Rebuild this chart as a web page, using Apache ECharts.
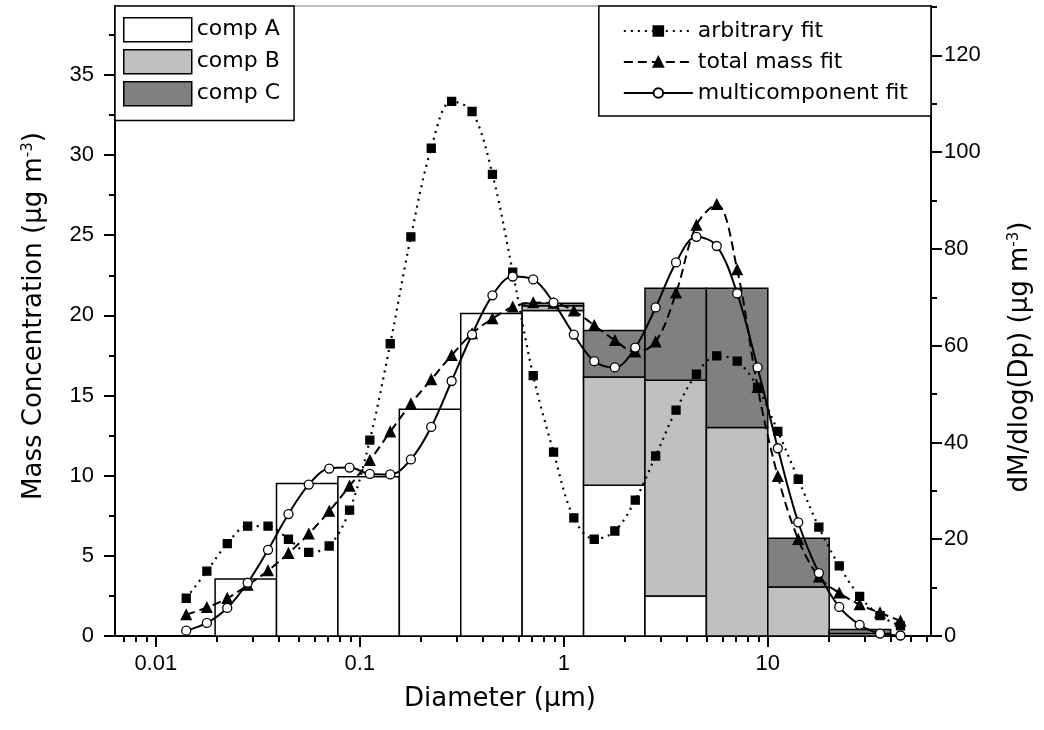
<!DOCTYPE html>
<html><head><meta charset="utf-8">
<script src="https://cdn.jsdelivr.net/npm/echarts@6/dist/echarts.min.js"></script>
<style>html,body{margin:0;padding:0;background:#fff}#c{width:1044px;height:730px}</style>
</head><body><div id="c"></div>
<script>
// ---- data ----
const binEdges = [0.01953, 0.03906, 0.07813, 0.15625, 0.3125, 0.625, 1.25, 2.5, 5, 10, 20, 40];
const compA = [3.55, 9.52, 9.93, 14.15, 20.12, 20.3, 9.4, 2.5, 0, 0, 0];
const compB = [0, 0, 0, 0, 0, 0.3, 6.75, 13.45, 13.0, 3.05, 0.15];
const compC = [0, 0, 0, 0, 0, 0.15, 2.9, 5.75, 8.7, 3.05, 0.25];

const fitDiameters = [0.0141, 0.0178, 0.0224, 0.0282, 0.0355, 0.0447, 0.0562, 0.0708, 0.0891,
  0.112, 0.141, 0.178, 0.224, 0.282, 0.355, 0.447, 0.562, 0.708, 0.891,
  1.12, 1.41, 1.78, 2.24, 2.82, 3.55, 4.47, 5.62, 7.08, 8.91,
  11.2, 14.1, 17.8, 22.4, 28.2, 35.5, 44.7];
const arbitraryFit = [7.8, 13.4, 19.1, 22.7, 22.7, 20.0, 17.3, 18.6, 26.0, 40.5, 60.4, 82.5, 100.8, 110.5,
  108.4, 95.4, 75.2, 53.8, 38.0, 24.4, 20.0, 21.7, 28.1, 37.2, 46.7, 54.1, 57.9, 56.8, 51.4,
  42.3, 32.4, 22.5, 14.5, 8.2, 4.2, 2.1];
const totalMassFit = [4.4, 5.9, 7.8, 10.5, 13.5, 17.1, 21.1, 25.8, 31.0, 36.3, 42.2, 48.0, 53.0, 58.0,
  62.5, 65.6, 68.0, 68.9, 68.8, 67.2, 64.2, 61.1, 58.7, 60.8, 70.9, 84.9, 89.2, 75.7, 51.4,
  33.0, 20.0, 12.2, 8.9, 6.5, 4.8, 3.1];
const multiFit = [1.1, 2.7, 5.8, 11.0, 17.8, 25.2, 31.3, 34.6, 34.8, 33.5, 33.4, 36.5, 43.2, 52.7,
  62.3, 70.4, 74.3, 73.7, 68.9, 62.3, 56.8, 55.5, 59.6, 67.9, 77.2, 82.5, 80.6, 70.8, 55.5,
  38.8, 23.5, 13.0, 6.0, 2.3, 0.5, 0.1];

const xTickValues = [0.01, 0.1, 1, 10];
const xTickLabels = ['0.01', '0.1', '1', '10'];
const xMinorTicks = [0.007, 0.008, 0.009, 0.02, 0.03, 0.04, 0.05, 0.06, 0.07, 0.08, 0.09,
  0.2, 0.3, 0.4, 0.5, 0.6, 0.7, 0.8, 0.9, 2, 3, 4, 5, 6, 7, 8, 9, 20, 30, 40, 50, 60];
const leftTicks = [0, 5, 10, 15, 20, 25, 30, 35];
const leftMinorTicks = [2.5, 7.5, 12.5, 17.5, 22.5, 27.5, 32.5, 37.5];
const rightTicks = [0, 20, 40, 60, 80, 100, 120];
const rightMinorTicks = [10, 30, 50, 70, 90, 110, 130];

// ---- layout constants ----
const X_MIN = 0.00631, X_MAX = 63.1;
const LEFT_MAX = 39.3, RIGHT_MAX = 130.2;
const FONT = 'DejaVu Sans';
const TICK_FONT = 'Liberation Sans';
const lg = Math.log10;

function stackData(vals, bases) {
  return vals.map((v, i) => [lg(binEdges[i]), lg(binEdges[i + 1]), bases[i], bases[i] + v]);
}
const zeros = compA.map(() => 0);
const baseB = compA.slice();
const baseC = compA.map((a, i) => a + compB[i]);

function renderBin(params, api) {
  const b = api.value(2), t = api.value(3);
  if (t - b <= 0) return null;
  const p0 = api.coord([api.value(0), b]);
  const p1 = api.coord([api.value(1), t]);
  return {
    type: 'rect',
    shape: { x: p0[0], y: p1[1], width: p1[0] - p0[0], height: p0[1] - p1[1] },
    style: api.style()
  };
}
function barSeries(name, color, data) {
  return {
    name, type: 'custom', coordinateSystem: 'cartesian2d', xAxisIndex: 0, yAxisIndex: 0,
    renderItem: renderBin, data, encode: { x: [0, 1], y: [2, 3] },
    itemStyle: { color, borderColor: '#000', borderWidth: 1.5 }, z: 1, silent: true
  };
}
function lineSeries(name, vals, symbol, size, fill, dash, width) {
  return {
    name, type: 'line', xAxisIndex: 0, yAxisIndex: 2,
    data: fitDiameters.map((d, i) => [lg(d), vals[i]]),
    smooth: 0.35, symbol, symbolSize: size, showAllSymbol: true,
    lineStyle: { color: '#000', width: width, type: dash },
    itemStyle: { color: fill, borderColor: '#000', borderWidth: 1.3 },
    z: 3, silent: true, animation: false
  };
}

const tickLabelStyle = { color: '#000', fontSize: 22, fontFamily: TICK_FONT };
const nameStyle = {
  color: '#000', fontSize: 26, fontFamily: FONT,
  rich: { sup: { fontSize: 15, fontFamily: FONT, color: '#000', verticalAlign: 'top', lineHeight: 26 } }
};
const minorAxisLine = { show: false, onZero: false };

const chart = echarts.init(document.getElementById('c'), null, { renderer: 'canvas' });
chart.setOption({
  animation: false,
  backgroundColor: '#fff',
  grid: { left: 115, right: 113, top: 6, bottom: 94, show: true, borderColor: '#808080', borderWidth: 1, backgroundColor: 'transparent' },
  xAxis: [
    {
      type: 'value', min: lg(X_MIN), max: lg(X_MAX), position: 'bottom',
      axisLine: { show: true, onZero: false, lineStyle: { color: '#000', width: 2 } },
      axisTick: { show: true, customValues: xTickValues.map(lg), length: 11, lineStyle: { color: '#000', width: 2 } },
      axisLabel: {
        show: true, customValues: xTickValues.map(lg), margin: 17, ...tickLabelStyle,
        formatter: v => { const i = xTickValues.findIndex(t => Math.abs(lg(t) - v) < 1e-6); return i >= 0 ? xTickLabels[i] : ''; }
      },
      splitLine: { show: false },
      name: 'Diameter (μm)', nameLocation: 'middle', nameGap: 50,
      nameTextStyle: { ...nameStyle, padding: [0, 46, 0, 0] }
    },
    {
      type: 'value', min: lg(X_MIN), max: lg(X_MAX), position: 'bottom',
      axisLine: minorAxisLine,
      axisTick: { show: true, customValues: xMinorTicks.map(lg), length: 6, lineStyle: { color: '#000', width: 2 } },
      axisLabel: { show: false }, splitLine: { show: false }
    }
  ],
  yAxis: [
    {
      type: 'value', min: 0, max: LEFT_MAX, position: 'left',
      axisLine: { show: true, onZero: false, lineStyle: { color: '#000', width: 2 } },
      axisTick: { show: true, customValues: leftTicks, length: 11, lineStyle: { color: '#000', width: 2 } },
      axisLabel: { show: true, customValues: leftTicks, margin: 21, ...tickLabelStyle },
      splitLine: { show: false },
      name: 'Mass Concentration (μg m{sup|-3})', nameLocation: 'middle', nameRotate: 90, nameGap: 68,
      nameTextStyle: { ...nameStyle, padding: [0, 0, 0, 10] }
    },
    {
      type: 'value', min: 0, max: LEFT_MAX, position: 'left',
      axisLine: minorAxisLine,
      axisTick: { show: true, customValues: leftMinorTicks, length: 6, lineStyle: { color: '#000', width: 2 } },
      axisLabel: { show: false }, splitLine: { show: false }
    },
    {
      type: 'value', min: 0, max: RIGHT_MAX, position: 'right',
      axisLine: { show: true, onZero: false, lineStyle: { color: '#000', width: 2 } },
      axisTick: { show: true, customValues: rightTicks, length: 11, lineStyle: { color: '#000', width: 2 } },
      axisLabel: { show: true, customValues: rightTicks, margin: 13, ...tickLabelStyle },
      splitLine: { show: false },
      name: 'dM/dlog(Dp) (μg m{sup|-3})', nameLocation: 'middle', nameRotate: 90, nameGap: 76,
      nameTextStyle: { ...nameStyle, padding: [0, 72, 0, 0] }
    },
    {
      type: 'value', min: 0, max: RIGHT_MAX, position: 'right',
      axisLine: minorAxisLine,
      axisTick: { show: true, customValues: rightMinorTicks, length: 6, lineStyle: { color: '#000', width: 2 } },
      axisLabel: { show: false }, splitLine: { show: false }
    }
  ],
  legend: [
    {
      data: [
        { name: 'comp A', icon: 'rect', itemStyle: { color: '#ffffff', borderColor: '#000', borderWidth: 1.5 } },
        { name: 'comp B', icon: 'rect', itemStyle: { color: '#c0c0c0', borderColor: '#000', borderWidth: 1.5 } },
        { name: 'comp C', icon: 'rect', itemStyle: { color: '#808080', borderColor: '#000', borderWidth: 1.5 } }
      ],
      orient: 'vertical', left: 115, top: 6, itemWidth: 68, itemHeight: 24, itemGap: 6.5,
      padding: [11, 14, 14, 8], backgroundColor: '#fff', borderColor: '#000', borderWidth: 1.5,
      textStyle: { color: '#000', fontSize: 22, fontFamily: FONT, lineHeight: 24 },
      selectedMode: false, z: 10
    },
    {
      data: ['arbitrary fit', 'total mass fit', 'multicomponent fit'],
      orient: 'vertical', right: 113, top: 6, itemWidth: 69, itemHeight: 12, itemGap: 7,
      padding: [13, 23, 11, 24], backgroundColor: '#fff', borderColor: '#000', borderWidth: 1.5,
      textStyle: { color: '#000', fontSize: 22, fontFamily: FONT, lineHeight: 24 },
      selectedMode: false, z: 10
    }
  ],
  series: [
    barSeries('comp A', '#ffffff', stackData(compA, zeros)),
    barSeries('comp B', '#c0c0c0', stackData(compB, baseB)),
    barSeries('comp C', '#808080', stackData(compC, baseC)),
    lineSeries('arbitrary fit', arbitraryFit, 'rect', 8, '#000', [2, 5], 2.2),
    lineSeries('total mass fit', totalMassFit, 'triangle', 10, '#000', [9, 5], 2),
    lineSeries('multicomponent fit', multiFit, 'circle', 9, '#fff', 'solid', 2)
  ]
});
</script></body></html>
